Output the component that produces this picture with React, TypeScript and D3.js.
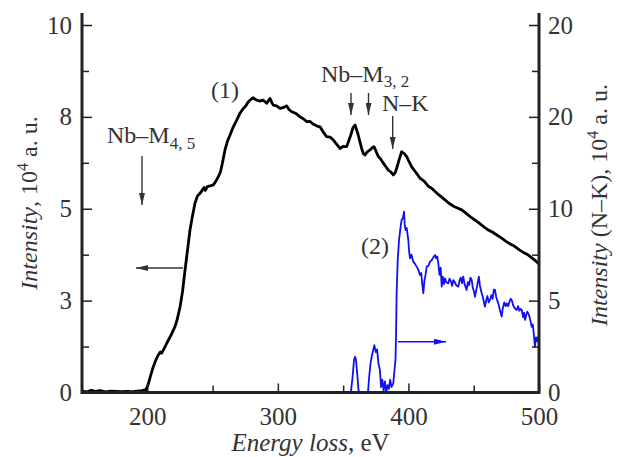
import React, { useEffect, useRef } from 'react';
import * as d3 from 'd3';

// spectrum (1), left axis, 10^4 a.u.
const energyBlack = [
  150, 154, 157, 160, 164, 168, 172, 176, 180, 184, 188, 192, 196, 199,
  200.5, 202.5, 204.6, 206.5, 208.4, 210, 211, 213, 214.9, 218, 221.2, 223, 225.1, 227,
  228.3, 230.2, 232.7, 234.5, 236.5, 238.5, 240.4, 242, 243.5, 244.5, 246, 248, 250.6,
  252.5, 254.4, 256, 257.5, 259.5, 261.5, 263.3, 265.5, 268.5, 271, 273.5, 275.5, 277.4,
  279.5, 281.2, 283.5, 286.3, 288.5, 291.5, 293, 294, 295.5, 296.5, 299, 301.6, 304,
  306.8, 308.5, 310.6, 313.5, 317, 319.5, 322.1, 324.5, 327.2, 330, 332.3, 334.5, 337.4,
  340, 342.5, 344.5, 347.6, 350, 352.7, 354.3, 355.8, 357.5, 359.1, 360.3, 361.6, 363,
  364.2, 365.5, 366.7, 368.5, 370.6, 372.3, 373.6, 375, 376.9, 378.8, 380.8, 382.6,
  384.6, 386.5, 388.4, 389.8, 391, 393, 394.8, 396.8, 398.7, 400.5, 402.5, 405.5, 408.9,
  412, 415, 418, 421.9, 425, 428, 431, 434.5, 437.5, 440.8, 444, 447.5, 451, 454.5, 458,
  461.2, 464.5, 468, 471.4, 474.5, 478, 481.6, 485, 488.5, 491.8, 495, 498.2, 500
];
const intensityBlack = [
  0.04, 0.02, 0.06, 0.03, 0.05, 0.02, 0.04, 0.03, 0.02, 0.03, 0.02, 0.04, 0.05, 0.08,
  0.2, 0.45, 0.7, 0.88, 1.02, 1.1, 1.07, 1.2, 1.34, 1.55, 1.79, 2.0, 2.33, 2.75,
  3.15, 3.7, 4.42, 4.78, 5.15, 5.35, 5.42, 5.5, 5.58, 5.5, 5.6, 5.62, 5.65,
  5.75, 5.87, 6.0, 6.24, 6.6, 6.85, 7.0, 7.2, 7.41, 7.6, 7.73, 7.8, 7.91,
  7.98, 8.02, 7.96, 7.93, 7.96, 7.87, 7.95, 8.0, 7.88, 7.82, 7.8, 7.73, 7.75,
  7.8, 7.7, 7.64, 7.6, 7.5, 7.45, 7.37, 7.38, 7.3, 7.25, 7.23, 7.1, 6.96,
  6.95, 6.87, 6.78, 6.64, 6.7, 6.69, 6.85, 7.0, 7.2, 7.28, 7.15, 7.0, 6.8,
  6.64, 6.5, 6.46, 6.55, 6.6, 6.66, 6.69, 6.58, 6.42, 6.35, 6.24, 6.15,
  6.05, 6.0, 5.92, 5.98, 6.1, 6.35, 6.55, 6.5, 6.42, 6.28, 6.14, 6.0, 5.83,
  5.75, 5.62, 5.55, 5.42, 5.33, 5.24, 5.15, 5.07, 5.02, 4.97, 4.88, 4.78, 4.69, 4.6, 4.5,
  4.42, 4.36, 4.28, 4.2, 4.12, 4.04, 3.97, 3.88, 3.8, 3.74, 3.65, 3.56, 3.5
];

// spectrum (2), N-K, right axis
const energyBlue = [
  345, 354, 356, 357.3, 358.3, 359.1, 359.8, 360.8, 361.8, 363, 366, 369, 370, 371, 372,
  373, 373.9, 375, 376, 377, 378.2, 379, 380, 381, 382, 383, 384, 385, 386, 387, 388.4,
  389.3, 390.1, 390.6, 391, 391.8, 392.8, 393.8, 394.8, 395.8, 396.6, 397.2, 397.9, 398.7,
  399.9, 400.5, 401.2, 402.3, 403.7, 405, 406.3, 407.5, 408.9, 409.8, 410.6, 411.4, 412.3,
  413.1, 414, 415.3, 416.5, 417.8, 419, 420.4, 421.2, 422.1, 422.9, 423.8, 424.7, 425.5,
  426.3, 427.2, 428, 429, 430.5, 431.5, 432.5, 433.5, 434.4, 435.5, 436.5, 438.2, 439.2,
  440.1, 441, 442, 443, 444.6, 445.5, 446.5, 447.5, 448.5, 449.3, 450.2, 451, 452, 453,
  453.9, 454.8, 456.1, 457, 458.6, 459.5, 460.5, 461.4, 462.5, 463.5, 464.5, 465.4, 466.3,
  467.2, 468.1, 468.8, 470, 471.4, 472.3, 473.4, 474.5, 475.3, 476.4, 477.4, 478.3, 479.1,
  480.2, 481.3, 482.9, 484, 485, 485.9, 486.8, 487.8, 488.6, 489.3, 490.2, 491, 491.8,
  492.8, 493.6, 494.4, 495.3, 496, 496.9, 497.7, 498.4, 499.5, 500
];
const intensityBlue = [
  0, 0, 0.05, 0.9, 1.75, 1.95, 1.8, 1.0, 0.1, 0, 0, 0, 0.9, 1.6, 2.0,
  2.3, 2.58, 2.2, 2.35, 1.6, 1.2, 0.3, 0.7, 0.1, 0.6, 0, 0.4, 0.2, 0.7, 0.3, 0.5,
  1.2, 1.8, 3.5, 5.5, 7.2, 8.3, 8.9, 9.39, 9.5, 9.84, 9.1, 8.84, 8.95,
  8.3, 7.7, 7.3, 7.5, 7.12, 7.0, 6.85, 6.7, 6.39, 6.5, 5.9, 5.4, 6.1,
  6.4, 6.85, 6.9, 7.12, 7.2, 7.35, 7.48, 7.3, 7.4, 7.03, 6.4, 6.8, 5.76,
  6.3, 5.9, 6.21, 6.0, 5.94, 6.2, 6.05, 5.8, 6.12, 6.0, 5.85, 5.76, 6.1,
  6.25, 5.94, 6.3, 5.9, 5.58, 6.0, 5.85, 6.25, 6.12, 5.7, 5.5, 5.21, 5.6, 5.94,
  6.3, 5.8, 5.4, 5.2, 4.67, 5.0, 5.25, 4.9, 5.03, 5.3, 5.1, 5.6, 5.58,
  5.2, 5.0, 4.85, 4.5, 4.13, 4.6, 4.9, 4.7, 4.85, 4.7, 4.95, 5.1, 5.03,
  4.75, 4.6, 4.49, 4.7, 4.45, 4.55, 4.49, 4.1, 4.35, 3.95, 4.2, 4.4, 4.31,
  4.1, 3.85, 3.58, 3.7, 3.2, 2.49, 3.0, 2.8, 3.04, 2.6
];

const xTicks = [200, 300, 400, 500];
const xMinorTicks = [250, 350, 450];
const leftTicks = [0, 2.5, 5, 7.5, 10];
const leftTickLabels = ['0', '3', '5', '8', '10'];
const leftMinorTicks = [1.25, 3.75, 6.25, 8.75];
const rightTicks = [0, 5, 10, 15, 20];
const rightTickLabels = ['0', '5', '10', '20', '20'];
const rightMinorTicks = [2.5, 7.5, 12.5, 17.5];

const W = 622;
const H = 457;
const FONT = '"Liberation Serif", "Times New Roman", serif';
const TXT = '#333';
const BLUE = '#1010f0';

const x = d3.scaleLinear().domain([150, 500]).range([82, 539]);
const y = d3.scaleLinear().domain([0, 10]).range([392.5, 25]);
const yR = d3.scaleLinear().domain([0, 20]).range([392.5, 25]);
const plotTop = 13;

const App = () => {
  const ref = useRef(null);

  useEffect(() => {
    const svg = d3.select(ref.current);
    const g = svg.select('g.axes');
    g.selectAll('*').remove();

    const styleAxis = (sel, fs) => {
      sel.select('.domain').remove();
      sel.selectAll('line').attr('stroke', '#222').attr('stroke-width', 1.5);
      sel.selectAll('text').attr('font-family', FONT).attr('font-size', fs).attr('fill', TXT);
    };

    g.append('g')
      .attr('transform', 'translate(82,0)')
      .call(d3.axisLeft(y).tickValues(leftTicks).tickSize(-10).tickPadding(10)
        .tickFormat((d, i) => leftTickLabels[i]))
      .call(s => styleAxis(s, 25));
    g.append('g')
      .attr('transform', 'translate(82,0)')
      .call(d3.axisLeft(y).tickValues(leftMinorTicks).tickSize(-7).tickFormat(() => ''))
      .call(s => styleAxis(s, 25));

    g.append('g')
      .attr('transform', 'translate(539,0)')
      .call(d3.axisRight(yR).tickValues(rightTicks).tickSize(-10).tickPadding(9)
        .tickFormat((d, i) => rightTickLabels[i]))
      .call(s => styleAxis(s, 25));
    g.append('g')
      .attr('transform', 'translate(539,0)')
      .call(d3.axisRight(yR).tickValues(rightMinorTicks).tickSize(-7).tickFormat(() => ''))
      .call(s => styleAxis(s, 25));

    g.append('g')
      .attr('transform', 'translate(0,392.5)')
      .call(d3.axisBottom(x).tickValues(xTicks).tickSize(-9).tickPadding(15)
        .tickFormat(d3.format('d')))
      .call(s => styleAxis(s, 25));
    g.append('g')
      .attr('transform', 'translate(0,392.5)')
      .call(d3.axisBottom(x).tickValues(xMinorTicks).tickSize(-7).tickFormat(() => ''))
      .call(s => styleAxis(s, 25));

    // frame: left, right and bottom only
    g.append('path')
      .attr('d', `M82,${plotTop}V392.5H539V${plotTop}`)
      .attr('fill', 'none')
      .attr('stroke', '#222')
      .attr('stroke-width', 3);
  }, []);

  const lineBlack = d3.line<number>()
    .x((d, i) => x(energyBlack[i]))
    .y(d => y(d));
  const lineBlue = d3.line<number>()
    .x((d, i) => x(energyBlue[i]))
    .y(d => yR(d));

  const arrow = { stroke: '#333', strokeWidth: 1.4, markerEnd: 'url(#head)' };
  const ann = { fontFamily: FONT, fontSize: 24, fill: TXT };

  return (
    <svg ref={ref} width={W} height={H}
      style={{ position: 'absolute', left: 0, top: 0, background: '#fff' }}>
      <defs>
        <marker id="head" viewBox="0 0 12 6" refX="12" refY="3"
          markerWidth="12" markerHeight="6" markerUnits="userSpaceOnUse" orient="auto">
          <path d="M0,0L12,3L0,6z" fill="#333" />
        </marker>
        <marker id="headBlue" viewBox="0 0 12 6" refX="12" refY="3"
          markerWidth="12" markerHeight="6" markerUnits="userSpaceOnUse" orient="auto">
          <path d="M0,0L12,3L0,6z" fill={BLUE} />
        </marker>
      </defs>

      <path d={lineBlue(intensityBlue) || ''} fill="none" stroke={BLUE} strokeWidth={1.8}
        strokeLinejoin="round" />
      <path d={lineBlack(intensityBlack) || ''} fill="none" stroke="#000" strokeWidth={2.8}
        strokeLinejoin="round" />

      <g className="axes" />

      {/* annotations */}
      <text x={211} y={98} {...ann}>(1)</text>
      <text x={361} y={254} {...ann}>(2)</text>
      <text x={107} y={143} {...ann}>Nb–M<tspan fontSize={17} dy={6}>4, 5</tspan></text>
      <text x={321} y={82} {...ann}>Nb–M<tspan fontSize={17} dy={5}>3, 2</tspan></text>
      <text x={382} y={111} {...ann}>N–K</text>

      <line x1={142} y1={156} x2={142} y2={205} {...arrow} />
      <line x1={351} y1={93} x2={351} y2={115} {...arrow} />
      <line x1={368.5} y1={93} x2={368.5} y2={115} {...arrow} />
      <line x1={392.7} y1={116} x2={392.7} y2={149} {...arrow} />
      <line x1={183} y1={268} x2={136} y2={268} {...arrow} />
      <line x1={398} y1={341.7} x2={446} y2={341.7} stroke={BLUE} strokeWidth={1.6}
        markerEnd="url(#headBlue)" />

      {/* axis titles */}
      <text transform="translate(37,203) rotate(-90)" textAnchor="middle" {...ann}>
        <tspan fontStyle="italic">Intensity</tspan>, 10<tspan fontSize={16} dy={-9}>4</tspan>
        <tspan dy={9}> a. u.</tspan>
      </text>
      <text transform="translate(607,205) rotate(-90)" textAnchor="middle" {...ann}>
        <tspan fontStyle="italic">Intensity</tspan> (N–K), 10<tspan fontSize={16} dy={-9}>4</tspan>
        <tspan dy={9}> a. u.</tspan>
      </text>
      <text x={310.5} y={451} textAnchor="middle" {...ann} fontSize={25}>
        <tspan fontStyle="italic">Energy loss</tspan>, eV
      </text>
    </svg>
  );
};

export default App;
